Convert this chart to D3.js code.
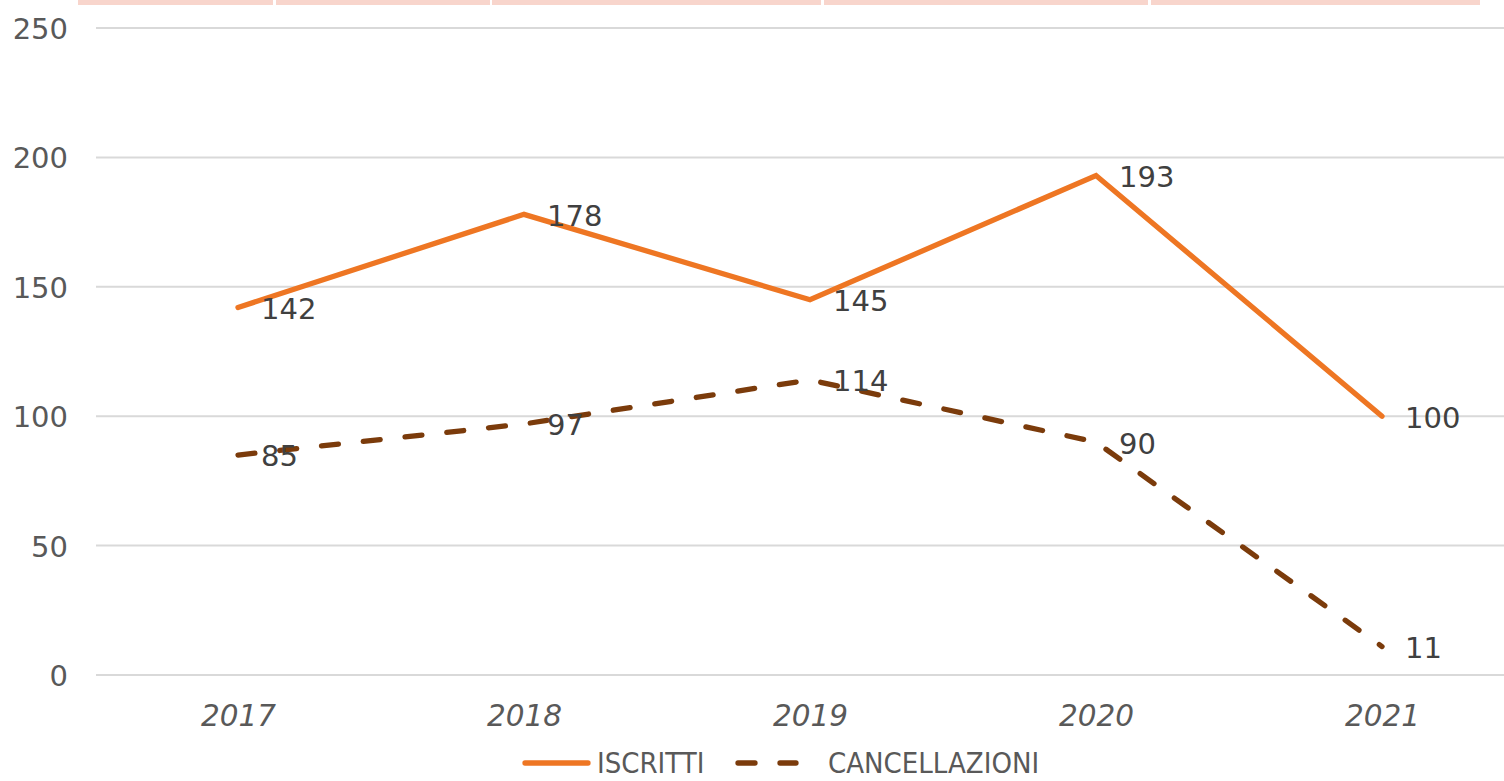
<!DOCTYPE html>
<html>
<head>
<meta charset="utf-8">
<script src="https://cdn.jsdelivr.net/npm/d3@7"></script>
<style>
  html, body { margin: 0; padding: 0; background: #fff; }
  svg { display: block; }
</style>
</head>
<body>
<svg id="chart" width="1504" height="781"></svg>
<script>
const years = ["2017", "2018", "2019", "2020", "2021"];
const iscritti = [142, 178, 145, 193, 100];
const cancellazioni = [85, 97, 114, 90, 11];
const yTicks = [0, 50, 100, 150, 200, 250];
const seriesNames = ["ISCRITTI", "CANCELLAZIONI"];

const svg = d3.select("#chart");
const W = 1504, H = 781;
const numFont = "'DejaVu Sans', sans-serif";

// decorative top band (pink cells)
const bandEdges = [[78, 273], [276, 490], [492, 821], [824, 1148], [1151, 1480]];
svg.selectAll("rect.topband").data(bandEdges).enter().append("rect")
  .attr("x", d => d[0]).attr("y", 0).attr("width", d => d[1] - d[0]).attr("height", 5)
  .attr("fill", "#f8d5cc");

const x = d3.scalePoint().domain(years).range([95, 1525]).padding(0.5);
const y = d3.scaleLinear().domain([0, 250]).range([675, 28]);

// gridlines
svg.append("g").selectAll("line").data(yTicks).enter().append("line")
  .attr("x1", 96).attr("x2", W)
  .attr("y1", d => y(d)).attr("y2", d => y(d))
  .attr("stroke", "#d9d9d9").attr("stroke-width", 2);

// y axis labels
const yAxis = d3.axisLeft(y).tickValues(yTicks).tickSize(0).tickPadding(0);
const yg = svg.append("g").attr("transform", "translate(68,0)").call(yAxis);
yg.select(".domain").remove();
yg.selectAll("text")
  .attr("font-family", numFont).attr("font-size", 29).attr("fill", "#595959")
  .attr("dy", "0.36em");

// x axis labels
const xAxis = d3.axisBottom(x).tickSize(0).tickPadding(0);
const xg = svg.append("g").attr("transform", "translate(0,715)").call(xAxis);
xg.select(".domain").remove();
xg.selectAll("text")
  .attr("font-family", numFont).attr("font-size", 29.5).attr("font-style", "italic")
  .attr("fill", "#595959").attr("dy", "0.36em");

const line = d3.line().x((d, i) => x(years[i])).y(d => y(d));

const orange = "#ee7623";
const brown = "#7b3b0b";

svg.append("path").datum(iscritti).attr("d", line)
  .attr("fill", "none").attr("stroke", orange).attr("stroke-width", 5.3)
  .attr("stroke-linecap", "round").attr("stroke-linejoin", "miter");

svg.append("path").datum(cancellazioni).attr("d", line)
  .attr("fill", "none").attr("stroke", brown).attr("stroke-width", 5.3)
  .attr("stroke-linecap", "round").attr("stroke-dasharray", "17,25");

// data labels
function labels(data) {
  svg.append("g").selectAll("text").data(data).enter().append("text")
    .attr("x", (d, i) => x(years[i]) + 23)
    .attr("y", d => y(d) + 1)
    .attr("dy", "0.36em")
    .attr("font-family", numFont).attr("font-size", 29).attr("fill", "#404040")
    .text(d => d);
}
labels(iscritti);
labels(cancellazioni);

// legend
const lg = svg.append("g");
const legY = 763;
lg.append("line").attr("x1", 525).attr("x2", 588).attr("y1", legY).attr("y2", legY)
  .attr("stroke", orange).attr("stroke-width", 5.3).attr("stroke-linecap", "round");
lg.append("text").attr("x", 597).attr("y", legY).attr("dy", "0.36em")
  .attr("font-family", "'DejaVu Sans', sans-serif").attr("font-stretch", "condensed")
  .attr("font-size", 29).attr("fill", "#595959").text(seriesNames[0]);
lg.append("line").attr("x1", 738).attr("x2", 796).attr("y1", legY).attr("y2", legY)
  .attr("stroke", brown).attr("stroke-width", 5.3).attr("stroke-linecap", "round")
  .attr("stroke-dasharray", "17,25");
lg.append("text").attr("x", 828).attr("y", legY).attr("dy", "0.36em")
  .attr("font-family", "'DejaVu Sans', sans-serif").attr("font-stretch", "condensed")
  .attr("font-size", 29).attr("fill", "#595959").text(seriesNames[1]);
</script>
</body>
</html>
